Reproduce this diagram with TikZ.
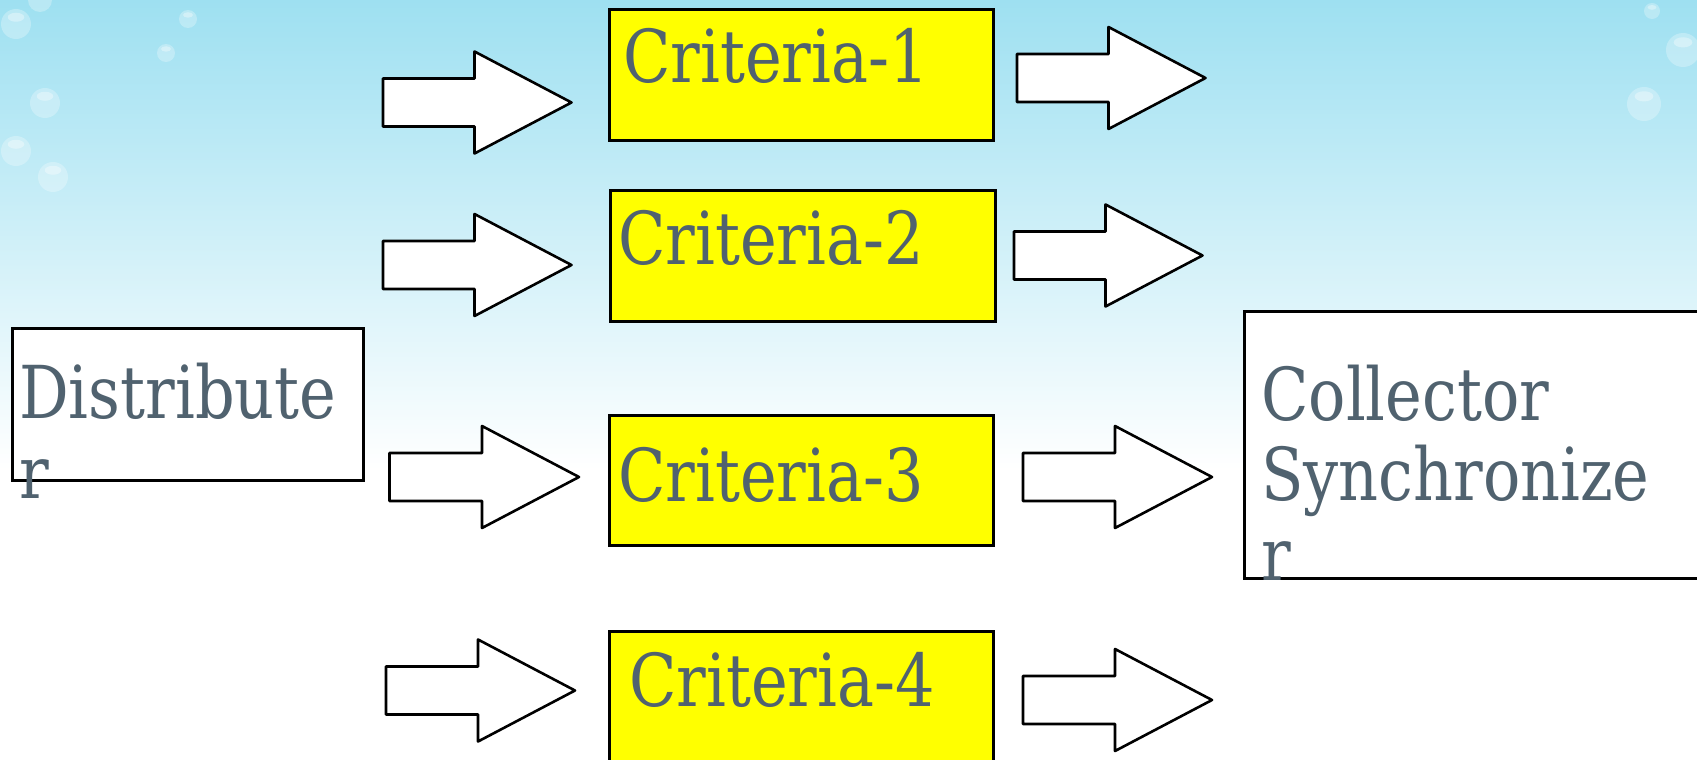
\documentclass[tikz,border=0pt]{standalone}
\usepackage{fontspec}
\newfontfamily\gfont[FakeStretch=0.85]{DejaVu Serif}
\definecolor{txtc}{RGB}{80,98,111}
\definecolor{skytop}{RGB}{158,224,241}
\definecolor{critfill}{RGB}{255,255,0}
\tikzset{
  boxstyle/.style={draw=black, line width=2.6pt, fill=white},
  critbox/.style={draw=black, line width=2.6pt, fill=critfill},
  txt/.style={text=txtc, font=\gfont\fontsize{73}{80}\selectfont, inner sep=0pt, align=left, anchor=base west},
  blockarrow/.style={draw=black, line width=2.6pt, fill=white, line join=round},
  bubble/.style={fill=white, opacity=0.28},
  bubblehi/.style={fill=white, opacity=0.35}
}
\newcommand{\blockarr}[3]{% #1 tail x, #2 tip x, #3 center y
  \draw[blockarrow] (#1,{#3-24}) -- ({#2-97},{#3-24}) -- ({#2-97},{#3-51}) -- (#2,#3) -- ({#2-97},{#3+51}) -- ({#2-97},{#3+24}) -- (#1,{#3+24}) -- cycle;}
\newcommand{\bub}[3]{% x y r
  \fill[bubble] (#1,#2) circle (#3);
  \fill[bubblehi] (#1,{#2-0.45*#3}) ellipse ({0.55*#3} and {0.3*#3});}
\begin{document}
\begin{tikzpicture}[x=1pt,y=-1pt]
\useasboundingbox (0,0) rectangle (1697,760);
\clip (0,0) rectangle (1697,760);
% background
\fill[white] (0,0) rectangle (1697,760);
\shade[top color=skytop, bottom color=white] (0,0) rectangle (1697,470);
% bubbles
\bub{40}{0}{12}
\bub{16}{24}{15}
\bub{188}{19}{9}
\bub{166}{53}{9}
\bub{45}{103}{15}
\bub{16}{151}{15}
\bub{53}{177}{15}
\bub{1652}{11}{8}
\bub{1683}{50}{17}
\bub{1644}{104}{17}
% boxes
\node[critbox, minimum width=384, minimum height=131, anchor=north west, inner sep=0pt] (c1) at (608,8) {};
\node[critbox, minimum width=385, minimum height=131, anchor=north west, inner sep=0pt] (c2) at (609,189) {};
\node[critbox, minimum width=384, minimum height=130, anchor=north west, inner sep=0pt] (c3) at (608,414) {};
\node[critbox, minimum width=384, minimum height=160, anchor=north west, inner sep=0pt] (c4) at (608,630) {};
\node[boxstyle, minimum width=351, minimum height=152, anchor=north west, inner sep=0pt] (dist) at (11,327) {};
\node[boxstyle, minimum width=500, minimum height=267, anchor=north west, inner sep=0pt] (coll) at (1243,310) {};
% texts
\node[txt] (t1) at (623,82) {Criteria-1};
\node[txt] (t2) at (618,264) {Criteria-2};
\node[txt] (t3) at (618,501) {Criteria-3};
\node[txt] (t4) at (629,706) {Criteria-4};
\node[txt] (td) at (19,498) {Distribute\\r};
\node[txt] (tc) at (1261,580) {Collector\\Synchronize\\r};
% arrows
\blockarr{383}{571.5}{102.5}
\blockarr{383}{571.5}{265}
\blockarr{389.5}{579}{477}
\blockarr{386}{575}{690.5}
\blockarr{1017}{1205.5}{78}
\blockarr{1014}{1202.5}{255.5}
\blockarr{1023}{1212}{477}
\blockarr{1023}{1212}{700}
\end{tikzpicture}
\end{document}
